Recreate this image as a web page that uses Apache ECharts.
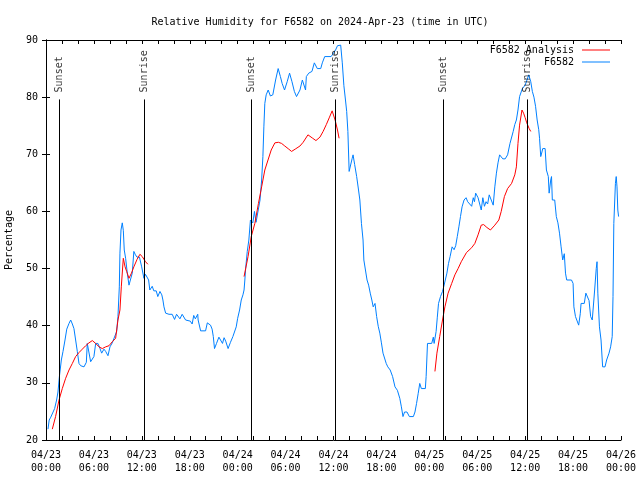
<!DOCTYPE html>
<html><head><meta charset="utf-8">
<script src="https://cdn.jsdelivr.net/npm/echarts@6/dist/echarts.min.js"></script>
<style>html,body{margin:0;padding:0;background:#fff}#c{width:640px;height:480px}</style>
</head><body><div id="c"></div>
<script>
// hours since 2024-04-23 00:00 UTC
const obsHours = [0.25,0.4,0.6,0.85,1.08,1.33,1.5,1.67,1.92,2.13,2.38,2.6,2.88,3.09,3.3,3.5,3.71,3.92,4.13,4.34,4.76,5.05,5.17,5.4,5.59,5.8,6.0,6.22,6.5,6.76,6.97,7.26,7.47,7.76,8.01,8.3,8.55,8.85,9.01,9.18,9.26,9.39,9.55,9.68,9.8,9.97,10.18,10.39,10.55,10.8,11.0,11.2,11.4,11.7,11.98,12.26,12.45,12.6,12.85,13.0,13.3,13.5,13.8,14.0,14.27,14.5,14.64,14.77,14.98,15.4,15.8,16.1,16.35,16.56,16.77,17.05,17.25,17.48,18.07,18.3,18.5,18.7,19.0,19.05,19.36,19.98,20.2,20.4,20.6,20.8,20.95,21.1,21.35,21.65,21.85,22.1,22.3,22.5,22.8,23.1,23.4,23.6,23.82,24.0,24.24,24.45,24.66,24.8,24.9,25.0,25.2,25.4,25.6,25.8,25.9,26.1,26.3,26.5,26.8,27.0,27.16,27.28,27.4,27.57,27.82,28.1,28.4,28.75,29.07,29.35,29.57,29.87,30.2,30.5,30.8,31.1,31.37,31.6,31.8,32.1,32.3,32.5,32.6,32.9,33.3,33.6,33.97,34.4,34.6,34.9,35.7,35.9,36.26,36.5,36.9,37.0,37.1,37.3,37.5,37.65,37.8,37.96,38.15,38.34,38.45,38.65,38.9,39.1,39.3,39.5,39.7,39.8,40.0,40.2,40.4,40.6,40.8,40.97,41.2,41.4,41.6,41.8,42.0,42.2,42.4,42.6,42.8,43.1,43.4,43.7,44.0,44.3,44.5,44.7,44.9,45.2,45.5,46.0,46.2,46.4,46.6,46.8,47.0,47.5,47.6,47.77,48.3,48.5,48.6,48.85,49.0,49.15,49.4,49.65,49.8,50.0,50.2,50.4,50.6,50.85,51.1,51.3,51.5,51.7,51.9,52.1,52.35,52.6,52.8,53.0,53.3,53.5,53.65,53.8,54.1,54.3,54.5,54.7,54.9,55.1,55.3,55.5,55.7,56.0,56.2,56.4,56.6,56.8,57.0,57.2,57.5,57.8,58.1,58.3,58.5,58.7,58.9,59.1,59.3,59.65,60.0,60.2,60.45,60.7,60.9,61.1,61.3,61.5,61.7,61.8,61.95,62.1,62.2,62.5,62.66,62.9,63.0,63.2,63.3,63.4,63.7,63.9,64.1,64.3,64.5,64.7,64.9,65.05,65.2,65.8,66.0,66.1,66.3,66.5,66.7,66.9,67.0,67.4,67.6,67.8,68.0,68.2,68.4,68.7,68.9,69.0,69.1,69.3,69.5,69.7,70.0,70.2,70.5,70.7,70.9,71.0,71.1,71.3,71.4,71.5,71.6,71.7];
const obsRH = [21.9,23.5,24,24.1,25.5,27,28.4,31,34,35.5,37.5,39.4,40.4,41,40.3,39.5,37.5,35.5,33.4,33,32.8,33.6,36.9,36.9,33.7,33.6,34.6,36.9,36.9,36,35.2,35.9,35.5,34.75,36.3,37,37.2,39,41.6,46.8,52.7,56.75,58,56.7,53.25,51.8,49.2,47.1,47.3,49.2,53,52.4,52,52,50.3,48.3,49,49,48,46.25,46.9,46.1,46.1,45.1,46,45.4,44.5,43.3,42.2,42,42,41.1,42,42,41.2,42,42,41,40.8,40.3,41.8,41.2,42,41,39.1,39.1,40.5,40.7,40.1,39.4,38.1,36,36.9,38,38,36.9,37.9,37.3,36,37.1,38.1,38.1,39.8,41.3,42.75,44.5,45.4,46.25,48,50,53,55,58.5,58.6,58,60,58.1,58.1,62,65.5,69.6,74.8,78.9,80.4,81.25,80.2,80.4,83,85,83.6,82.4,81.25,82.7,84.2,82.7,81,80.1,80.2,81.25,83,83,81.25,83.6,84.2,84.5,86,85,85,86,87.1,87.1,87.5,88.25,89,89.1,89.1,86,82,79.5,77.5,74,67,67,69.3,69.9,68.2,66.1,64.1,62,57.9,55,51.5,49.75,48,47.1,45.7,44.5,43.3,43.9,41.6,39.9,38.7,37,35.2,34.9,33.4,32.8,32.25,31.1,29.3,28.7,27.3,25.8,24.1,24.9,24.9,24.1,24.1,24.9,26.4,28.1,29.9,29,29,31.1,36.9,36.9,38,36.9,39,41.5,43.9,45.1,46,46.8,48,49.2,50.9,52.1,53.8,53.3,54,55.6,57.3,59.1,60.8,62,62.4,61.7,61.7,60.9,62.4,61.7,63.2,62.4,62.4,60.25,62.4,60.9,61.7,61.3,62.9,62.6,61.1,64.3,66.7,68.5,69.9,69.9,69.2,69.2,69.9,71.9,72.1,74,75.2,76,77.75,80.1,81.5,82.1,82.4,83.9,82.7,81,80,78.4,76,74.3,72.8,69.6,70.4,71,71,67.25,66.1,63.2,65.5,66.1,62,62,59.1,58,56.2,53.8,51.5,52.6,49.2,48,48,47.4,43.3,41.6,41.6,40.1,42.1,43.9,43.9,45.7,45.7,44.4,41.6,41,46.25,50,51.2,45.7,39.8,37.5,32.8,32.8,34,35.2,36.3,38.1,45.1,57.9,64.9,66.1,64.3,60.25,59.1];

// analysis series: null separates runs
const anaHours = [0.79,1.2,1.63,2.04,2.46,2.88,3.3,3.71,4.13,4.55,4.97,5.38,5.8,6.22,6.64,7.05,7.47,7.89,8.3,8.72,9.01,9.26,9.43,9.68,9.9,10.1,10.39,10.7,11.0,11.4,11.76,12.05,12.46,12.76,
  18,
  24.8,25.3,25.7,26.15,26.6,27.0,27.4,27.8,28.2,28.66,29.1,29.5,29.9,30.4,30.75,31.2,31.8,32.2,32.8,33.4,33.8,34.3,34.7,35.1,35.5,35.83,36.2,36.5,36.7,
  42,
  48.7,48.95,49.3,49.65,49.95,50.35,50.8,51.2,51.6,52.0,52.65,53.3,53.7,54.1,54.5,54.8,55.2,55.65,56.2,56.7,57.0,57.4,57.8,58.3,58.7,58.9,59.1,59.3,59.6,59.8,60.0,60.2,60.5,60.7];
const anaRH = [21.9,24.1,27,29,30.8,32.25,33.4,34.6,35.3,35.9,36.5,37,37.4,36.9,36.3,36,36.3,36.5,37.2,37.8,41,42.75,46.8,51.8,50.3,49.5,48.3,49.2,50.3,51.6,52.5,52.1,51.2,50.75,
  null,
  48.6,52.1,55.6,57.9,61.4,64.3,67.25,69,70.75,72,72.1,71.9,71.45,70.9,70.5,70.9,71.45,72.1,73.4,72.8,72.4,73,74,75.2,76.5,77.6,76,74.25,72.8,
  null,
  32,35.2,38.1,41,43.3,45.7,47.4,48.9,50,51.2,52.8,53.65,54.4,55.9,57.6,57.7,57.2,56.75,57.6,58.5,60,62.6,64,64.9,66.4,67.8,71.9,75.1,77.75,77.2,76.4,75.5,74.5,74];

const sunHours = [1.67, 12.31, 25.71, 36.23, 49.75, 60.27];
const sunNames = ['Sunset','Sunrise','Sunset','Sunrise','Sunset','Sunrise'];
const sunLineTop = 79.6;

const xTicks = [0,6,12,18,24,30,36,42,48,54,60,66,72];
const yTicks = [20,30,40,50,60,70,80,90];

const FONT = 'DejaVu Sans Mono';
const pad = n => (n < 10 ? '0' : '') + n;
function xLabel(v) {
  const d = 23 + Math.floor(v / 24);
  const h = Math.round(v % 24);
  return '04/' + pad(d) + '\n' + pad(h) + ':00';
}

const chart = echarts.init(document.getElementById('c'), null, {renderer: 'canvas'});
const axisLine = {show: true, lineStyle: {color: '#000', width: 1}};
const tickStyle = {show: true, inside: true, length: 4, lineStyle: {color: '#000'}};
const legendCommon = {right: 25, align: 'right', icon: 'rect', itemWidth: 28, itemHeight: 1, itemGap: 0,
  textStyle: {fontFamily: FONT, fontSize: 10, color: '#000', padding: [0, 3, 0, 0]}};
chart.setOption({
  animation: false,
  backgroundColor: '#fff',
  title: {
    text: 'Relative Humidity for F6582 on 2024-Apr-23 (time in UTC)',
    left: 'center', top: 12,
    textStyle: {fontFamily: FONT, fontSize: 10, fontWeight: 'normal', color: '#000'}
  },
  legend: [
    Object.assign({data: ['F6582 Analysis'], top: 40}, legendCommon),
    Object.assign({data: ['F6582'], top: 52}, legendCommon)
  ],
  grid: {left: 46, right: 19, top: 40, bottom: 40, containLabel: false, outerBoundsMode: 'none'},
  xAxis: [
    {type: 'value', min: 0, max: 72, interval: 6, position: 'bottom',
     axisLine, axisTick: tickStyle,
     minorTick: {show: true, splitNumber: 3, length: 4, lineStyle: {color: '#000'}},
     splitLine: {show: false},
     axisLabel: {formatter: xLabel, fontFamily: FONT, fontSize: 10, color: '#000', lineHeight: 13, margin: 9}},
    {type: 'value', min: 0, max: 72, interval: 6, position: 'top',
     axisLine, axisTick: tickStyle,
     minorTick: {show: true, splitNumber: 3, length: 4, lineStyle: {color: '#000'}},
     splitLine: {show: false}, axisLabel: {show: false}}
  ],
  yAxis: [
    {type: 'value', min: 20, max: 90, interval: 10, position: 'left',
     name: 'Percentage', nameLocation: 'middle', nameGap: 32,
     nameTextStyle: {fontFamily: FONT, fontSize: 10, color: '#000'},
     axisLine, axisTick: tickStyle, splitLine: {show: false},
     axisLabel: {fontFamily: FONT, fontSize: 10, color: '#000', margin: 8,
                 formatter: v => yTicks.includes(v) ? String(v) : ''}},
    {type: 'value', min: 20, max: 90, interval: 10, position: 'right',
     axisLine, axisTick: tickStyle, splitLine: {show: false}, axisLabel: {show: false}}
  ],
  series: [
    {name: 'F6582 Analysis', type: 'line', symbol: 'none', connectNulls: false,
     lineStyle: {color: '#ff0000', width: 1}, itemStyle: {color: '#ff0000'},
     data: anaHours.map((h, i) => [h, anaRH[i]]), z: 3},
    {name: 'F6582', type: 'line', symbol: 'none',
     lineStyle: {color: '#0080ff', width: 1}, itemStyle: {color: '#0080ff'},
     data: obsHours.map((h, i) => [h, obsRH[i]]), z: 2},
    {name: 'sun', type: 'scatter', symbolSize: 0, silent: true, z: 4,
     data: sunHours.map((h, i) => [h, sunLineTop, sunNames[i]]),
     label: {show: true, formatter: p => p.value[2], position: 'top', distance: 7, rotate: 90,
             align: 'left', verticalAlign: 'middle', fontFamily: FONT, fontSize: 10, color: '#000'},
     markLine: {silent: true, symbol: 'none', label: {show: false},
       lineStyle: {color: '#000', width: 1, type: 'solid'},
       data: sunHours.map(h => [{coord: [h, 20]}, {coord: [h, sunLineTop]}])}}
  ]
});
</script></body></html>
